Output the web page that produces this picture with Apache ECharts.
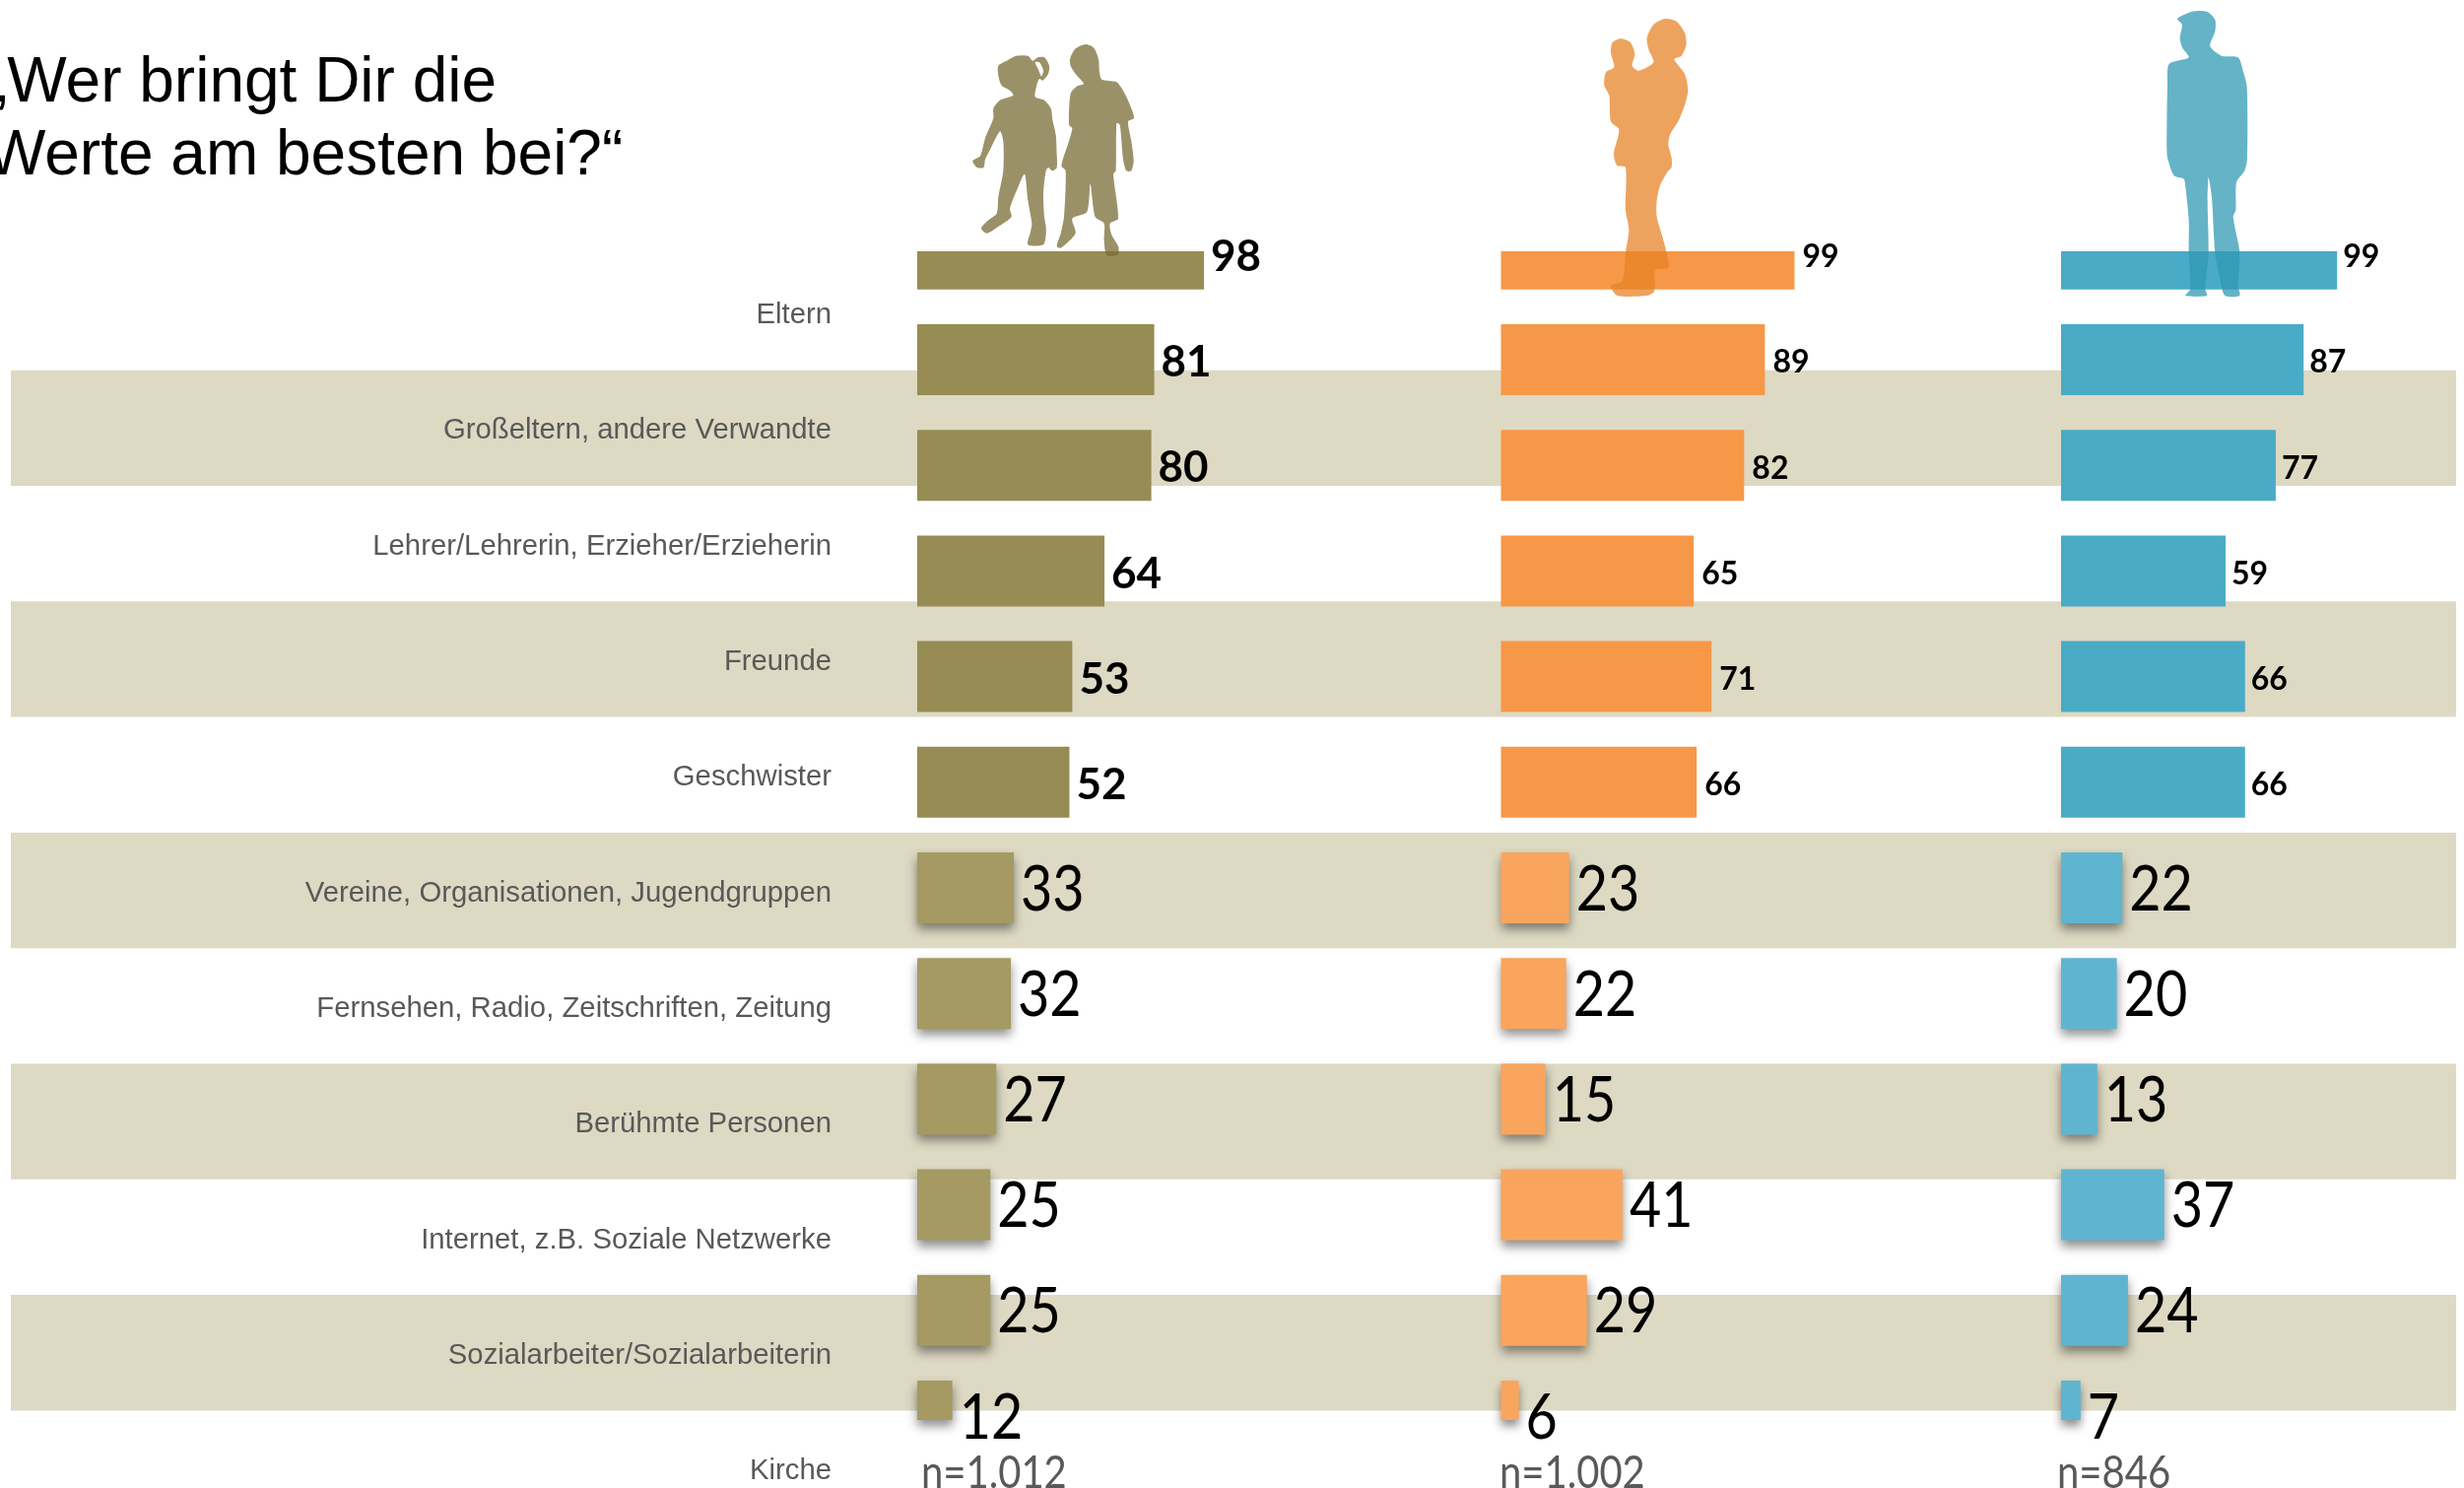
<!DOCTYPE html>
<html>
<head>
<meta charset="utf-8">
<title>Werte</title>
<style>
    html, body { margin: 0; padding: 0; background: #fff; }
    #chart { width: 2501px; height: 1510px; }
</style>
<script src="https://cdn.jsdelivr.net/npm/echarts@6/dist/echarts.min.js"></script>
</head>
<body>
<div id="chart"></div>
<script>
var rowLabels = [
    'Eltern',
    'Großeltern, andere Verwandte',
    'Lehrer/Lehrerin, Erzieher/Erzieherin',
    'Freunde',
    'Geschwister',
    'Vereine, Organisationen, Jugendgruppen',
    'Fernsehen, Radio, Zeitschriften, Zeitung',
    'Berühmte Personen',
    'Internet, z.B. Soziale Netzwerke',
    'Sozialarbeiter/Sozialarbeiterin',
    'Kirche'
];
var kinderValues = [98, 81, 80, 64, 53, 52, 33, 32, 27, 25, 25, 12];
var elternValues = [99, 89, 82, 65, 71, 66, 23, 22, 15, 41, 29, 6];
var maennerValues = [99, 87, 77, 59, 66, 66, 22, 20, 13, 37, 24, 7];
var sampleLabels = ['n=1.012', 'n=1.002', 'n=846'];
var titleText = '„Wer bringt Dir die\nWerte am besten bei?“';

var girlShape = [960, 30, [[160,110],[185,95],[215,80],[250,80],[265,95],[280,85],[300,85],[315,110],[312,135],[295,155],[285,150],[278,165],[272,205],[300,215],[320,240],[325,275],[335,320],[338,380],[338,420],[325,430],[312,420],[305,430],[297,500],[300,570],[305,600],[305,625],[297,655],[250,655],[258,615],[262,590],[250,520],[240,440],[220,480],[195,545],[200,570],[160,600],[125,620],[108,605],[130,580],[155,560],[160,510],[175,430],[175,340],[165,310],[135,365],[120,395],[115,420],[95,420],[82,400],[105,385],[120,330],[145,270],[145,240],[165,215],[205,200],[195,185],[170,170],[160,140]]];
var hairGap = [960, 30, [[272,100],[285,100],[297,125],[291,142],[282,122]]];
var boyShape = [960, 30, [[378,90],[395,58],[425,45],[450,55],[465,90],[468,130],[475,152],[520,160],[545,195],[565,240],[573,270],[555,280],[565,340],[572,400],[565,430],[550,430],[540,395],[530,290],[520,285],[518,430],[510,440],[525,575],[500,590],[505,625],[525,660],[525,685],[490,688],[482,640],[482,590],[455,570],[440,470],[430,555],[385,575],[395,620],[350,665],[338,660],[350,620],[360,570],[365,430],[352,415],[375,340],[385,300],[375,290],[380,195],[400,172],[420,165],[395,135],[380,110]]];
var motherShape = [1600, 10, [[215,85],[235,45],[270,27],[305,35],[330,70],[335,105],[320,140],[298,150],[330,195],[340,245],[330,290],[310,340],[285,380],[280,410],[290,450],[290,480],[280,490],[255,535],[245,580],[245,630],[262,690],[275,740],[280,785],[240,792],[240,840],[235,860],[215,870],[125,870],[105,840],[140,825],[150,740],[160,670],[150,610],[150,480],[125,475],[115,450],[115,430],[130,365],[105,340],[100,260],[85,230],[90,190],[115,175],[105,130],[110,100],[135,88],[165,100],[178,135],[170,170],[190,185],[235,160],[220,120]]];
var manShape = [2170, 5, [[120,42],[165,20],[210,20],[235,45],[235,80],[220,125],[255,155],[305,160],[320,200],[332,250],[333,465],[325,505],[300,540],[298,625],[290,645],[310,755],[305,855],[310,885],[265,885],[250,835],[235,755],[225,585],[215,525],[212,595],[215,755],[205,865],[210,885],[145,885],[160,865],[155,755],[155,655],[145,555],[140,530],[110,520],[90,465],[88,435],[90,240],[95,180],[155,160],[135,130],[128,100],[135,60]]];

var firstRowY = 257.8;
var rowStep = 107.2;
var barTop = 255;
var barBottom = 1441;

var panels = [
    { left: 931, unit: 2.97, values: kinderValues, color: '#968c54', soft: '#a49a62', topSize: 44, topGap: 7, shape: '#786b35', sampleX: 935 },
    { left: 1523.5, unit: 3.01, values: elternValues, color: '#f79748', soft: '#f9a55e', topSize: 32, topGap: 8, shape: '#e78326', sampleX: 1522 },
    { left: 2092, unit: 2.83, values: maennerValues, color: '#4aabc6', soft: '#5fb5d0', topSize: 32, topGap: 6, shape: '#2f99b4', sampleX: 2088 }
];

function shapePoints(shape) {
    return shape[2].map(function (p) {
        return [shape[0] + p[0] / 3, shape[1] + p[1] / 3];
    });
}

function silhouette(shape, color, opacity) {
    return {
        type: 'polygon',
        z: 10,
        shape: { points: shapePoints(shape), smooth: 0.25 },
        style: { fill: color, opacity: opacity }
    };
}

function barRenderer(panel) {
    return function (params, api) {
        var row = api.value(1);
        var start = api.coord([0, row]);
        var end = api.coord([api.value(0), row]);
        var height = api.size([0, 0.672])[1];
        var rect = echarts.graphic.clipRectByRect({
            x: start[0],
            y: start[1] - height / 2,
            width: end[0] - start[0],
            height: height
        }, params.coordSys);
        var isTop = row < 6;
        var barStyle = { fill: isTop ? panel.color : panel.soft };
        if (!isTop) {
            barStyle.shadowBlur = 10;
            barStyle.shadowOffsetY = 6;
            barStyle.shadowColor = 'rgba(0,0,0,0.45)';
        }
        return {
            type: 'group',
            children: [
                { type: 'rect', shape: rect, style: barStyle },
                {
                    type: 'text',
                    x: end[0] + (isTop ? panel.topGap : 7),
                    y: end[1] + (isTop ? 3 : 2),
                    scaleX: isTop ? 1 : 0.87,
                    style: {
                        text: String(api.value(0)),
                        fill: '#000',
                        align: 'left',
                        verticalAlign: 'middle',
                        fontFamily: 'Lato',
                        fontWeight: isTop ? 'bold' : 'normal',
                        fontSize: isTop ? panel.topSize : 64
                    }
                }
            ]
        };
    };
}

var grids = [{ left: 11, width: 2482, top: 258.4, height: 1290.3, outerBoundsMode: 'none' }];
var xAxes = [{ gridIndex: 0, type: 'value', show: false }];
var yAxes = [{
    gridIndex: 0,
    type: 'category',
    inverse: true,
    data: rowLabels,
    offset: -833,
    axisLine: { show: false },
    axisTick: { show: false },
    // short line box with top anchor pushes the text about 3px below the row centre
    axisLabel: { margin: 0, align: 'right', verticalAlign: 'top', lineHeight: 6, color: '#595959', fontSize: 29.3, fontFamily: 'Liberation Sans' },
    splitArea: { show: true, areaStyle: { color: ['rgba(255,255,255,0)', '#ddd9c3'] } }
}];
var series = [];
var graphics = [];

panels.forEach(function (panel, i) {
    var index = i + 1;
    grids.push({ left: panel.left, width: panel.unit * 100, top: barTop, height: barBottom - barTop });
    xAxes.push({ gridIndex: index, type: 'value', min: 0, max: 100, show: false });
    yAxes.push({
        gridIndex: index,
        type: 'value',
        inverse: true,
        min: (barTop - firstRowY) / rowStep,
        max: (barBottom - firstRowY) / rowStep,
        show: false
    });
    series.push({
        type: 'custom',
        xAxisIndex: index,
        yAxisIndex: index,
        z: 3,
        silent: true,
        renderItem: barRenderer(panel),
        data: panel.values.map(function (v, row) { return [v, row]; })
    });
    graphics.push({
        type: 'text',
        x: panel.sampleX,
        y: 1518,
        z: 10,
        scaleX: 0.87,
        style: {
            text: sampleLabels[i],
            fill: '#595959',
            verticalAlign: 'bottom',
            fontFamily: 'Lato',
            fontSize: 46
        }
    });
});

graphics.push(silhouette(girlShape, panels[0].shape, 0.74));
graphics.push(silhouette(hairGap, '#fff', 1));
graphics.push(silhouette(boyShape, panels[0].shape, 0.74));
graphics.push(silhouette(motherShape, panels[1].shape, 0.74));
graphics.push(silhouette(manShape, panels[2].shape, 0.74));

var myChart = echarts.init(document.getElementById('chart'));
myChart.setOption({
    animation: false,
    backgroundColor: '#fff',
    title: {
        text: titleText,
        left: -14,
        top: 48,
        padding: 0,
        textStyle: { color: '#000', fontFamily: 'Liberation Sans', fontWeight: 'normal', fontSize: 64, lineHeight: 74 }
    },
    grid: grids,
    xAxis: xAxes,
    yAxis: yAxes,
    series: series,
    graphic: graphics
});
</script>
</body>
</html>
